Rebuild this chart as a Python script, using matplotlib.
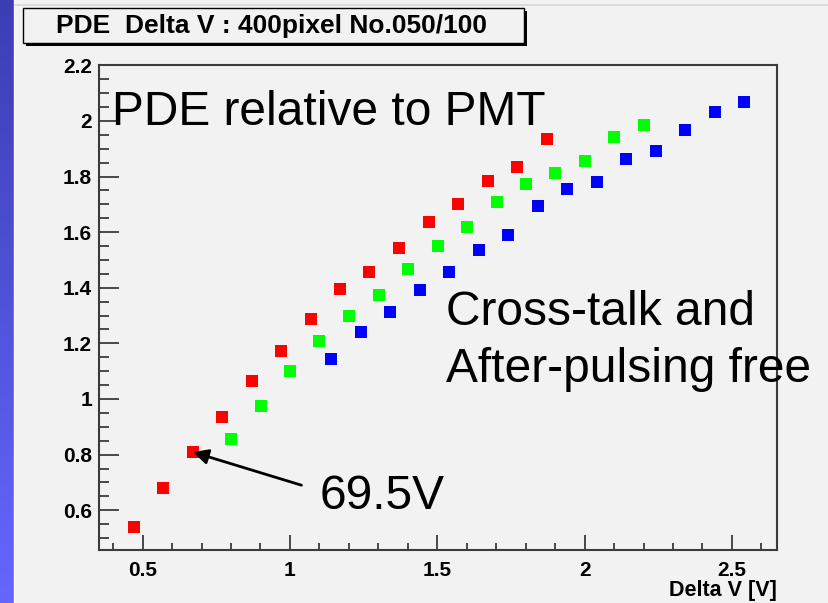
import numpy as np
import matplotlib
matplotlib.use("Agg")
import matplotlib.pyplot as plt
from matplotlib.patches import Rectangle
from matplotlib.colors import LinearSegmentedColormap
from matplotlib.ticker import MultipleLocator, FuncFormatter

# measured PDE relative to PMT vs over-voltage, three series
red_dv = [0.470, 0.570, 0.671, 0.770, 0.871, 0.970, 1.071, 1.171, 1.270, 1.370,
          1.472, 1.570, 1.672, 1.770, 1.872]
red_pde = [0.541, 0.681, 0.809, 0.936, 1.066, 1.174, 1.288, 1.396, 1.457, 1.543,
           1.637, 1.701, 1.784, 1.835, 1.935]

green_dv = [0.801, 0.902, 1.000, 1.099, 1.200, 1.302, 1.400, 1.502, 1.601, 1.702,
            1.801, 1.899, 2.001, 2.099, 2.201]
green_pde = [0.856, 0.975, 1.101, 1.209, 1.299, 1.374, 1.468, 1.550, 1.619, 1.709,
             1.773, 1.813, 1.856, 1.942, 1.986]

blue_dv = [1.139, 1.241, 1.339, 1.441, 1.540, 1.641, 1.740, 1.842, 1.940, 2.042,
           2.140, 2.242, 2.340, 2.442, 2.541]
blue_pde = [1.144, 1.241, 1.313, 1.392, 1.457, 1.536, 1.590, 1.694, 1.755, 1.781,
            1.863, 1.892, 1.968, 2.032, 2.068]

# point marked with the 69.5V label
marked_dv = red_dv[2]
marked_pde = red_pde[2]

W, H = 829, 603
BG = "#f2f2f2"
FRAME = "#3c3c3c"

plt.rcParams["font.family"] = ["Liberation Sans", "DejaVu Sans"]

fig = plt.figure(figsize=(W / 100, H / 100), dpi=100, facecolor=BG)


def fx(px):
    return px / W


def fy(py):
    return 1 - py / H


# slide side strip
strip = fig.add_axes([0, 0, fx(14), 1])
strip.imshow(np.linspace(0, 1, 256).reshape(-1, 1), aspect="auto",
             cmap=LinearSegmentedColormap.from_list("side", ["#3d3db4", "#6666ff"]))
strip.axis("off")
fig.add_artist(plt.Line2D([fx(14.5), fx(14.5)], [0, 1], color="#fafafa", lw=1))
fig.add_artist(plt.Line2D([fx(15), 1], [fy(4.5), fy(4.5)], color="#d6d6d6", lw=1.2))

# title pave with shadow
fig.add_artist(Rectangle((fx(26), fy(46)), fx(501), fy(0) - fy(35),
                         transform=fig.transFigure, facecolor="black", edgecolor="none"))
fig.add_artist(Rectangle((fx(23), fy(43)), fx(501), fy(0) - fy(35),
                         transform=fig.transFigure, facecolor=BG, edgecolor="black", lw=1))
fig.text(fx(272), fy(25.5), "PDE  Delta V : 400pixel No.050/100", ha="center", va="center",
         fontsize=19, fontweight="bold")

ax = fig.add_axes([fx(99), fy(550), fx(777 - 99), fy(65) - fy(550)])
ax.set_facecolor(BG)

ms = 8.8
ax.plot(red_dv, red_pde, "s", color="#ff0000", ms=ms, mew=0)
ax.plot(green_dv, green_pde, "s", color="#00ff00", ms=ms, mew=0)
ax.plot(blue_dv, blue_pde, "s", color="#0000ff", ms=ms, mew=0)

ax.set_xlim(0.352, 2.653)
ax.set_ylim(0.457, 2.201)

ax.xaxis.set_major_locator(MultipleLocator(0.5))
ax.xaxis.set_minor_locator(MultipleLocator(0.1))
ax.yaxis.set_major_locator(MultipleLocator(0.2))
ax.yaxis.set_minor_locator(MultipleLocator(0.05))
fmt = FuncFormatter(lambda v, p: "%g" % round(v, 2))
ax.xaxis.set_major_formatter(fmt)
ax.yaxis.set_major_formatter(fmt)

ax.tick_params(axis="both", which="both", direction="in", color=FRAME, width=1.3)
ax.tick_params(axis="x", which="major", length=10.5, pad=8)
ax.tick_params(axis="x", which="minor", length=5.2)
ax.tick_params(axis="y", which="major", length=14.5, pad=5)
ax.tick_params(axis="y", which="minor", length=7.2)
for lab in ax.get_xticklabels() + ax.get_yticklabels():
    lab.set_fontsize(15)
    lab.set_fontweight("bold")

for s in ax.spines.values():
    s.set_color(FRAME)
    s.set_linewidth(1.5)

fig.text(fx(777), fy(596), "Delta V [V]", ha="right", va="baseline",
         fontsize=15.5, fontweight="bold")

# annotations
big = 34.5
fig.text(fx(112), fy(125), "PDE relative to PMT", fontsize=big, va="baseline", ha="left")
fig.text(fx(446), fy(325), "Cross-talk and", fontsize=big, va="baseline", ha="left")
fig.text(fx(446), fy(382), "After-pulsing free", fontsize=big, va="baseline", ha="left")
ax.annotate("", xy=(marked_dv, marked_pde), xytext=(1.039, 0.690),
            arrowprops=dict(arrowstyle="-|>,head_length=0.9,head_width=0.45",
                            color="black", lw=2, shrinkA=0, shrinkB=0))
fig.text(fx(320), fy(509), "69.5V", fontsize=big, va="baseline", ha="left")

plt.savefig("out.png", dpi=100, facecolor=BG)
